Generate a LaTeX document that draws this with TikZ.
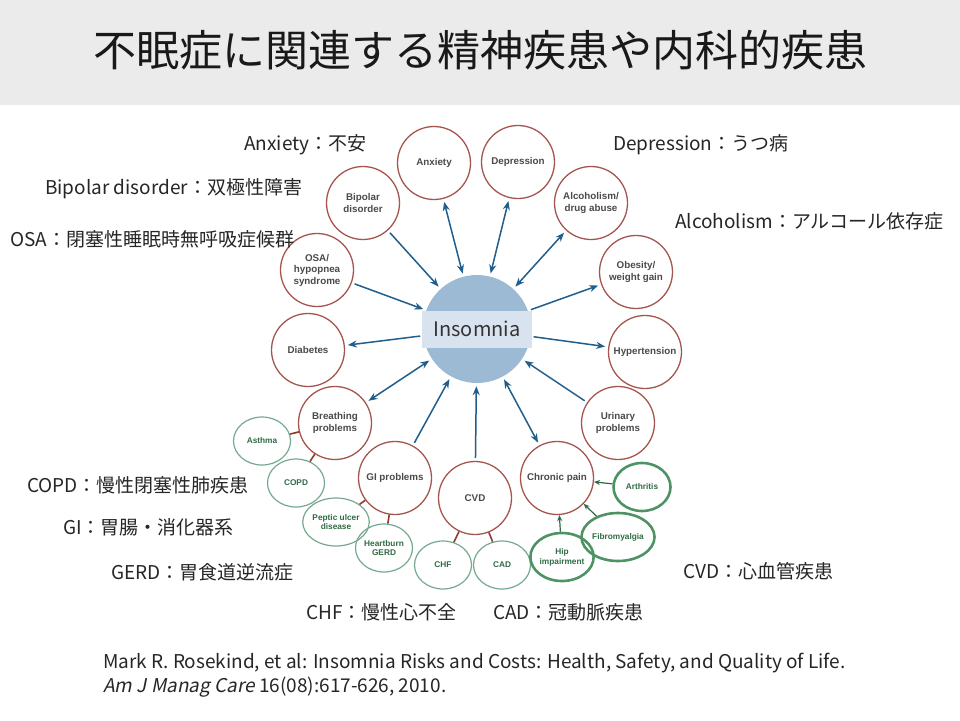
\documentclass[tikz,border=0pt]{standalone}
\usepackage{fontspec}
\setmainfont{Noto Sans CJK JP}[AutoFakeSlant=0.2]
\newfontfamily\figfont{Liberation Sans}
\usetikzlibrary{arrows.meta,shapes.geometric}
\definecolor{titlegray}{HTML}{EBEBEB}
\definecolor{ringred}{HTML}{A5554F}
\definecolor{linkred}{HTML}{8E3B33}
\definecolor{arrowblue}{HTML}{215E8C}
\definecolor{insblue}{HTML}{9DBAD5}
\definecolor{bandblue}{HTML}{D9E3F0}
\definecolor{palegreen}{HTML}{76A98F}
\definecolor{deepgreen}{HTML}{4E9363}
\definecolor{arrowgreen}{HTML}{2F6B45}
\definecolor{labelgray}{HTML}{4A4A4A}
\begin{document}
\begin{tikzpicture}[x=1pt,y=-1pt,
    cond/.style={circle, draw=ringred, line width=1.3pt, minimum size=73pt, inner sep=0pt, align=center,
        font=\figfont\bfseries\fontsize{9.8}{11.5}\selectfont, text=labelgray},
    sub/.style={ellipse, draw=palegreen, line width=1.2pt, minimum width=57pt, minimum height=48pt,
        inner sep=0pt, align=center, font=\figfont\bfseries\fontsize{8.3}{9.8}\selectfont, text=arrowgreen},
    subthick/.style={sub, draw=deepgreen, line width=2.6pt},
    link/.style={-{Stealth[length=9pt,width=7pt]}, arrowblue, line width=1.5pt, shorten <=3pt, shorten >=3pt},
    both/.style={link, {Stealth[length=9pt,width=7pt]}-{Stealth[length=9pt,width=7pt]}},
    stub/.style={linkred, line width=1.6pt},
    feed/.style={-{Stealth[length=6pt,width=5pt]}, arrowgreen, line width=1.2pt},
    note/.style={anchor=west, inner sep=0pt, font=\fontsize{19}{21}\selectfont, text=black!85}]

        \fill[white] (0,0) rectangle (960,720);
        \useasboundingbox (0,0) rectangle (960,720);
        \fill[titlegray] (0,0) rectangle (960,105);
        \node[font=\fontsize{43}{48}\selectfont, text=black!90] (title) at (480,50) {不眠症に関連する精神疾患や内科的疾患};

        % center
        \node[circle, fill=insblue, minimum size=108pt, inner sep=0pt] (ins) at (477,329) {};
        \node[fill=bandblue, minimum width=110pt, minimum height=37pt, inner sep=0pt,
            font=\fontsize{20}{22}\selectfont, text=black!80] (inslabel) at (ins) {Insomnia};

        \node[cond] (anx) at (434,163) {Anxiety};
        \node[cond] (dep) at (518,162) {Depression};
        \node[cond] (bip) at (363,203) {Bipolar\\disorder};
        \node[cond] (alc) at (591,203) {Alcoholism/\\drug abuse};
        \node[cond] (osa) at (317,270) {OSA/\\hypopnea\\syndrome};
        \node[cond] (obe) at (636,272) {Obesity/\\weight gain};
        \node[cond] (dia) at (308,350) {Diabetes};
        \node[cond] (hyp) at (645,352) {Hypertension};
        \node[cond] (bre) at (335,423) {Breathing\\problems};
        \node[cond] (uri) at (618,423) {Urinary\\problems};
        \node[cond] (gi) at (395,478) {GI problems};
        \node[cond] (cvd) at (475,498) {CVD};
        \node[cond] (chr) at (557,478) {Chronic pain};

        \node[sub] (ast) at (262,441) {Asthma};
        \node[sub] (copd) at (296,483) {COPD};
        \node[sub] (pep) at (336,522) {Peptic ulcer\\disease};
        \node[sub] (gerd) at (384,548) {Heartburn\\GERD};
        \node[sub] (chf) at (443,565) {CHF};
        \node[sub] (cad) at (502,565) {CAD};
        \node[subthick] (hip) at (562,557) {Hip\\impairment};
        \node[subthick] (fib) at (618,537) {Fibromyalgia};
        \node[subthick] (art) at (642,487) {Arthritis};

        % arrows
        \foreach \a/\b in {bip/ins, osa/ins, gi/ins, cvd/ins, uri/ins, ins/dia, ins/obe, ins/hyp}
            \draw[link] (\a) -- (\b);
        \foreach \a in {anx, dep, alc, bre, chr}
            \draw[both] (\a) -- (ins);
        \foreach \a/\b in {bre/ast, bre/copd, gi/pep, gi/gerd, cvd/chf, cvd/cad}
            \draw[stub] (\a) -- (\b);
        \foreach \a in {art, fib, hip}
            \draw[feed] (\a) -- (chr);

        % notes
        \node[note] (nanx) at (244,145) {Anxiety：不安};
        \node[note] (ndep) at (613,145) {Depression：うつ病};
        \node[note] (nbip) at (45,189) {Bipolar disorder：双極性障害};
        \node[note] (nosa) at (10,239) {OSA：閉塞性睡眠時無呼吸症候群};
        \node[note] (nalc) at (675,221) {Alcoholism：アルコール依存症};
        \node[note] (ncopd) at (27,485) {COPD：慢性閉塞性肺疾患};
        \node[note] (ngi) at (63,527) {GI：胃腸・消化器系};
        \node[note] (ngerd) at (111,572) {GERD：胃食道逆流症};
        \node[note] (ncvd) at (683,571) {CVD：心血管疾患};
        \node[note] (nchf) at (306,612) {CHF：慢性心不全};
        \node[note] (ncad) at (493,612) {CAD：冠動脈疾患};

        \node[note] (ref1) at (103,663)
            {Mark R. Rosekind, et al: Insomnia Risks and Costs: Health, Safety, and Quality of Life.};
        \node[note] (ref2) at (103,687)
            {\textit{Am J Manag Care} 16(08):617-626, 2010.};
\end{tikzpicture}
\end{document}
